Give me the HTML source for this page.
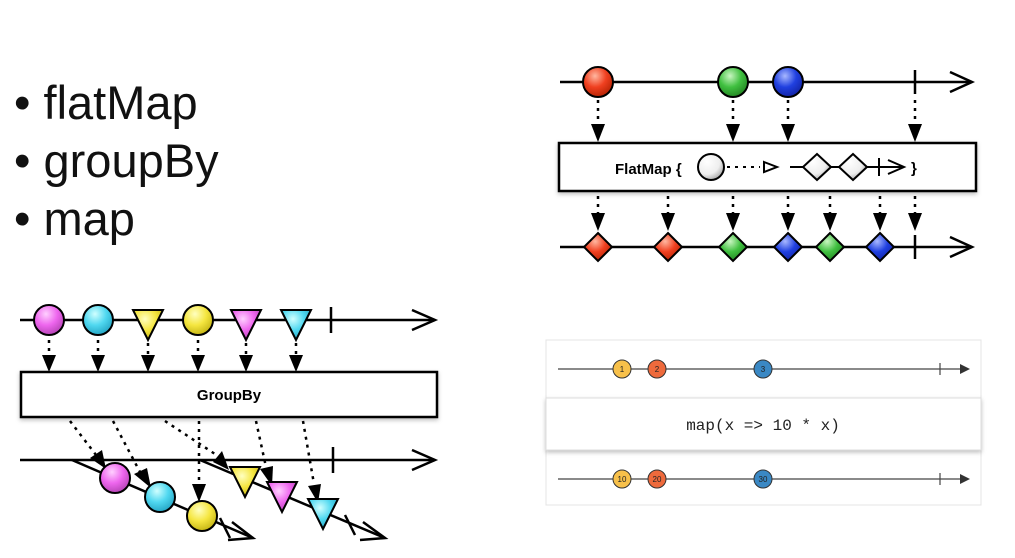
<!DOCTYPE html>
<html><head><meta charset="utf-8"><style>
html,body{margin:0;padding:0;background:#fff;width:1015px;height:558px;overflow:hidden}
svg{display:block}
</style></head><body>
<svg width="1015" height="558" viewBox="0 0 1015 558" xmlns="http://www.w3.org/2000/svg">
<defs>
<radialGradient id="gr" cx="0.4" cy="0.3" r="0.75"><stop offset="0" stop-color="#ffb7a0"/><stop offset="0.5" stop-color="#f04020"/><stop offset="1" stop-color="#b02000"/></radialGradient>
<radialGradient id="gg" cx="0.4" cy="0.3" r="0.75"><stop offset="0" stop-color="#c8f5c0"/><stop offset="0.5" stop-color="#40c040"/><stop offset="1" stop-color="#208020"/></radialGradient>
<radialGradient id="gb" cx="0.4" cy="0.3" r="0.75"><stop offset="0" stop-color="#a8b8ff"/><stop offset="0.5" stop-color="#2040e0"/><stop offset="1" stop-color="#1020a0"/></radialGradient>
<radialGradient id="gm" cx="0.4" cy="0.3" r="0.75"><stop offset="0" stop-color="#ffd0ff"/><stop offset="0.5" stop-color="#ee66ee"/><stop offset="1" stop-color="#b040b0"/></radialGradient>
<radialGradient id="gc" cx="0.4" cy="0.3" r="0.75"><stop offset="0" stop-color="#d0ffff"/><stop offset="0.5" stop-color="#50d8f0"/><stop offset="1" stop-color="#20a0c0"/></radialGradient>
<radialGradient id="gy" cx="0.4" cy="0.3" r="0.75"><stop offset="0" stop-color="#ffffc0"/><stop offset="0.5" stop-color="#f5e640"/><stop offset="1" stop-color="#c0b010"/></radialGradient>
<radialGradient id="gw" cx="0.35" cy="0.3" r="0.8"><stop offset="0" stop-color="#fff"/><stop offset="0.6" stop-color="#eee"/><stop offset="1" stop-color="#999"/></radialGradient>
<filter id="sh" x="-10%" y="-10%" width="120%" height="140%"><feDropShadow dx="0" dy="2" stdDeviation="2" flood-color="#000" flood-opacity="0.25"/></filter>
</defs>

<!-- bullets -->
<g font-family="Liberation Sans, sans-serif" font-size="47" fill="#111">
<text x="14" y="119">• flatMap</text>
<text x="14" y="177">• groupBy</text>
<text x="14" y="235">• map</text>
</g>

<!-- FlatMap diagram -->
<g stroke="#000" stroke-width="2.5" fill="none">
<line x1="560" y1="82" x2="972" y2="82"/>
<polyline points="950,72 972,82 950,92"/>
<line x1="915" y1="70" x2="915" y2="94"/>
<line x1="560" y1="247" x2="972" y2="247"/>
<polyline points="950,237 972,247 950,257"/>
<line x1="915" y1="235" x2="915" y2="259"/>
</g>
<g stroke="#000" stroke-width="2.5" stroke-dasharray="3,5">
<line x1="598" y1="100" x2="598" y2="125"/><line x1="733" y1="100" x2="733" y2="125"/><line x1="788" y1="100" x2="788" y2="125"/><line x1="915" y1="100" x2="915" y2="125"/>
<line x1="598" y1="196" x2="598" y2="215"/><line x1="668" y1="196" x2="668" y2="215"/><line x1="733" y1="196" x2="733" y2="215"/><line x1="788" y1="196" x2="788" y2="215"/><line x1="830" y1="196" x2="830" y2="215"/><line x1="880" y1="196" x2="880" y2="215"/><line x1="915" y1="196" x2="915" y2="215"/>
</g>
<g fill="#000">
<polygon points="591,124 605,124 598,142"/><polygon points="726,124 740,124 733,142"/><polygon points="781,124 795,124 788,142"/><polygon points="908,124 922,124 915,142"/>
<polygon points="591,213 605,213 598,231"/><polygon points="661,213 675,213 668,231"/><polygon points="726,213 740,213 733,231"/><polygon points="781,213 795,213 788,231"/><polygon points="823,213 837,213 830,231"/><polygon points="873,213 887,213 880,231"/><polygon points="908,213 922,213 915,231"/>
</g>
<g stroke="#000" stroke-width="2">
<circle cx="598" cy="82" r="15" fill="url(#gr)"/>
<circle cx="733" cy="82" r="15" fill="url(#gg)"/>
<circle cx="788" cy="82" r="15" fill="url(#gb)"/>
<polygon points="598,233 612,247 598,261 584,247" fill="url(#gr)"/>
<polygon points="668,233 682,247 668,261 654,247" fill="url(#gr)"/>
<polygon points="733,233 747,247 733,261 719,247" fill="url(#gg)"/>
<polygon points="788,233 802,247 788,261 774,247" fill="url(#gb)"/>
<polygon points="830,233 844,247 830,261 816,247" fill="url(#gg)"/>
<polygon points="880,233 894,247 880,261 866,247" fill="url(#gb)"/>
</g>
<rect x="559" y="143" width="417" height="48" fill="#fff" stroke="#000" stroke-width="2.5" filter="url(#sh)"/>
<text x="615" y="174" font-family="Liberation Sans, sans-serif" font-weight="bold" font-size="15" fill="#000">FlatMap {</text>
<circle cx="711" cy="167" r="13" fill="url(#gw)" stroke="#000" stroke-width="2"/>
<line x1="727" y1="167" x2="760" y2="167" stroke="#000" stroke-width="2" stroke-dasharray="3,5"/>
<polygon points="764,162 777,167 764,172" fill="#fff" stroke="#000" stroke-width="2"/>
<line x1="790" y1="167" x2="903" y2="167" stroke="#000" stroke-width="2"/>
<polyline points="888,160 904,167 888,174" fill="none" stroke="#000" stroke-width="2"/>
<line x1="879" y1="158" x2="879" y2="176" stroke="#000" stroke-width="2"/>
<polygon points="817,154 831,167 817,180 803,167" fill="url(#gw)" stroke="#000" stroke-width="2"/>
<polygon points="853,154 867,167 853,180 839,167" fill="url(#gw)" stroke="#000" stroke-width="2"/>
<text x="911" y="173" font-family="Liberation Sans, sans-serif" font-weight="bold" font-size="15">}</text>

<!-- GroupBy diagram -->
<g stroke="#000" stroke-width="2.5" fill="none">
<line x1="20" y1="320" x2="435" y2="320"/>
<polyline points="412,310 435,320 412,330"/>
<line x1="331" y1="307" x2="331" y2="333"/>
<line x1="20" y1="460" x2="435" y2="460"/>
<polyline points="412,450 435,460 412,470"/>
<line x1="333" y1="447" x2="333" y2="473"/>
<line x1="72" y1="460" x2="253" y2="538"/>
<polyline points="232,522 253,538 228,540"/>
<line x1="220" y1="518" x2="230" y2="538"/>
<line x1="200" y1="460" x2="385" y2="538"/>
<polyline points="363,522 385,538 360,540"/>
<line x1="345" y1="515" x2="355" y2="535"/>
</g>
<g stroke="#000" stroke-width="2.5" stroke-dasharray="3,5">
<line x1="49" y1="340" x2="49" y2="356"/><line x1="98" y1="340" x2="98" y2="356"/><line x1="148" y1="343" x2="148" y2="356"/><line x1="198" y1="340" x2="198" y2="356"/><line x1="246" y1="343" x2="246" y2="356"/><line x1="296" y1="343" x2="296" y2="356"/>
<line x1="70" y1="421" x2="96" y2="455"/>
<line x1="113" y1="421" x2="140" y2="472"/>
<line x1="165" y1="421" x2="218" y2="456"/>
<line x1="199" y1="421" x2="199" y2="484"/>
<line x1="256" y1="421" x2="266" y2="467"/>
<line x1="303" y1="421" x2="314" y2="484"/>
</g>
<g fill="#000">
<polygon points="42,355 56,355 49,372"/><polygon points="91,355 105,355 98,372"/><polygon points="141,355 155,355 148,372"/><polygon points="191,355 205,355 198,372"/><polygon points="239,355 253,355 246,372"/><polygon points="289,355 303,355 296,372"/>
<polygon points="90,458 102,450 106,469"/>
<polygon points="134,474 147,468 151,488"/>
<polygon points="213,462 222,451 229,470"/>
<polygon points="192,484 206,484 199,502"/>
<polygon points="260,469 273,466 272,486"/>
<polygon points="308,486 321,484 318,503"/>
</g>
<g stroke="#000" stroke-width="2">
<circle cx="49" cy="320" r="15" fill="url(#gm)"/>
<circle cx="98" cy="320" r="15" fill="url(#gc)"/>
<polygon points="133,310 163,310 148,340" fill="url(#gy)"/>
<circle cx="198" cy="320" r="15" fill="url(#gy)"/>
<polygon points="231,310 261,310 246,340" fill="url(#gm)"/>
<polygon points="281,310 311,310 296,340" fill="url(#gc)"/>
<circle cx="115" cy="478" r="15" fill="url(#gm)"/>
<circle cx="160" cy="497" r="15" fill="url(#gc)"/>
<circle cx="202" cy="516" r="15" fill="url(#gy)"/>
<polygon points="230,467 260,467 245,497" fill="url(#gy)"/>
<polygon points="267,482 297,482 282,512" fill="url(#gm)"/>
<polygon points="308,499 338,499 323,529" fill="url(#gc)"/>
</g>
<rect x="21" y="372" width="416" height="45" fill="#fff" stroke="#000" stroke-width="2.5" filter="url(#sh)"/>
<text x="229" y="400" text-anchor="middle" font-family="Liberation Sans, sans-serif" font-weight="bold" font-size="15">GroupBy</text>

<!-- map diagram -->
<rect x="546" y="340" width="435" height="165" fill="#fff" stroke="#e4e4e4" stroke-width="1"/>
<g stroke="#444" stroke-width="1.2">
<line x1="558" y1="369" x2="962" y2="369"/>
<line x1="940" y1="363" x2="940" y2="375"/>
<line x1="558" y1="479" x2="962" y2="479"/>
<line x1="940" y1="473" x2="940" y2="485"/>
</g>
<polygon points="960,364 970,369 960,374" fill="#333"/>
<polygon points="960,474 970,479 960,484" fill="#333"/>
<g stroke="#333" stroke-width="1" font-family="Liberation Sans, sans-serif" font-size="8" text-anchor="middle">
<circle cx="622" cy="369" r="9" fill="#f7c04a"/>
<circle cx="657" cy="369" r="9" fill="#ee6a3c"/>
<circle cx="763" cy="369" r="9" fill="#3a88c4"/>
<circle cx="622" cy="479" r="9" fill="#f7c04a"/>
<circle cx="657" cy="479" r="9" fill="#ee6a3c"/>
<circle cx="763" cy="479" r="9" fill="#3a88c4"/>
</g>
<g font-family="Liberation Sans, sans-serif" font-size="8" text-anchor="middle" fill="#222">
<text x="622" y="372">1</text><text x="657" y="372">2</text><text x="763" y="372">3</text>
<text x="622" y="482">10</text><text x="657" y="482">20</text><text x="763" y="482">30</text>
</g>
<rect x="546" y="398" width="435" height="52" fill="#fff" stroke="#ddd" stroke-width="1" filter="url(#sh)"/>
<text x="763" y="430" text-anchor="middle" font-family="Liberation Mono, monospace" font-size="16" fill="#222">map(x =&gt; 10 * x)</text>
</svg>
</body></html>
